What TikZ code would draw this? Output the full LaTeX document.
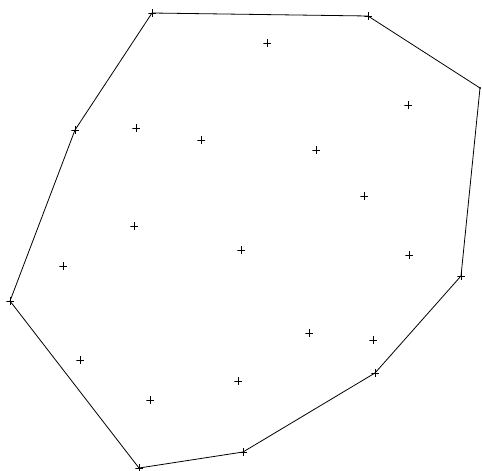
\documentclass[tikz,border=0pt]{standalone}
\usepackage{tikz}
\usetikzlibrary{calc}

\begin{document}
\begin{tikzpicture}[x=1pt,y=-1pt,
    pt/.style={minimum size=7.5pt,inner sep=0pt,
      path picture={\draw[line width=0.6pt]
        (path picture bounding box.north) -- (path picture bounding box.south)
        (path picture bounding box.west) -- (path picture bounding box.east);}},
    dotpt/.style={circle,fill,inner sep=0pt,minimum size=2pt},
    hull/.style={line width=0.8pt}]
  \useasboundingbox (0,0) rectangle (482,471);
  % hull points
  \node[pt] (h1) at (152,13) {};
  \node[pt] (h2) at (368,16) {};
  \node[dotpt] (h3) at (480,88) {};
  \node[pt] (h4) at (461,276) {};
  \node[pt] (h5) at (375,373) {};
  \node[pt] (h6) at (243,452) {};
  \node[pt] (h7) at (139,468) {};
  \node[pt] (h8) at (10,301) {};
  \node[pt] (h9) at (75,130) {};
  % inner points
  \foreach \x/\y [count=\i] in {267/43, 408/105, 136/128, 201/140, 316/150,
      364/196, 134/226, 241/250, 409/255, 63/266, 309/333, 373/340,
      80/360, 238/381, 150/400}
    \node[pt] (q\i) at (\x,\y) {};
  % convex hull
  \draw[hull] (h1.center) -- (h2.center) -- (h3.center) -- (h4.center)
    -- (h5.center) -- (h6.center) -- (h7.center) -- (h8.center)
    -- (h9.center) -- cycle;
\end{tikzpicture}
\end{document}
